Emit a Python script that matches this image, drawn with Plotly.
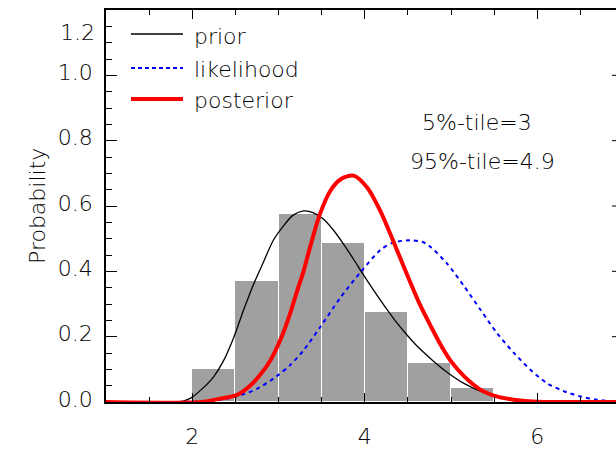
import numpy as np
import plotly.graph_objects as go

# ---------------- data ----------------
bin_left = [2.0, 2.5, 3.0, 3.5, 4.0, 4.5, 5.0]
bin_height = [0.100, 0.370, 0.575, 0.486, 0.277, 0.120, 0.043]
bin_width = 0.5

prior_x = [1.0, 1.85, 1.95, 2.0, 2.13, 2.25, 2.36, 2.48, 2.59, 2.71, 2.83, 2.94, 3.06, 3.17,
           3.29, 3.40, 3.52, 3.64, 3.75, 3.87, 3.97, 4.10, 4.22, 4.33, 4.49, 4.60, 4.72,
           4.80, 4.95, 5.15, 5.34, 5.53, 5.75, 6.0, 7.0]
prior_y = [0.0, 0.0, 0.008, 0.015, 0.044, 0.078, 0.125, 0.197, 0.278, 0.360, 0.431, 0.495,
           0.540, 0.572, 0.585, 0.580, 0.560, 0.525, 0.485, 0.437, 0.395, 0.343, 0.297,
           0.257, 0.205, 0.173, 0.143, 0.124, 0.092, 0.057, 0.033, 0.016, 0.006, 0.001, 0.0]

like_x = [1.0, 2.0, 2.3, 2.52, 2.75, 2.98, 3.14, 3.29, 3.48, 3.72, 3.95, 4.18, 4.33, 4.53,
          4.68, 4.76, 4.95, 5.15, 5.34, 5.53, 5.73, 5.92, 6.11, 6.31, 6.50, 6.69, 6.9, 7.0]
like_y = [0.0, 0.001, 0.005, 0.018, 0.040, 0.079, 0.114, 0.158, 0.228, 0.320, 0.397, 0.465,
          0.488, 0.495, 0.489, 0.475, 0.425, 0.355, 0.283, 0.212, 0.150, 0.099, 0.058,
          0.033, 0.017, 0.007, 0.002, 0.001]

post_x = [1.0, 2.1, 2.32, 2.52, 2.67, 2.79, 2.90, 2.98, 3.06, 3.14, 3.21, 3.29, 3.37, 3.48,
          3.60, 3.72, 3.87, 4.03, 4.18, 4.33, 4.49, 4.64, 4.78, 4.88, 4.99, 5.15, 5.34,
          5.53, 5.73, 6.0, 7.0]
post_y = [0.0, 0.0, 0.010, 0.022, 0.050, 0.084, 0.125, 0.166, 0.215, 0.275, 0.335, 0.400,
          0.478, 0.575, 0.646, 0.682, 0.693, 0.656, 0.585, 0.493, 0.390, 0.298, 0.225,
          0.175, 0.128, 0.079, 0.038, 0.017, 0.007, 0.001, 0.0]

y_tickvals = [0.0, 0.2, 0.4, 0.6, 0.8, 1.0, 1.2]
y_ticktext = ["0.0", "0.2", "0.4", "0.6", "0.8", "1.0", ""]
x_tickvals = [2, 4, 6]
x_ticktext = ["2", "4", "6"]
legend_names = ["prior", "likelihood", "posterior"]
note_lines = ["5%-tile=3", "95%-tile=4.9"]

FONT = "DejaVu Sans"
FS = 22
FW = 200

def fnt():
    return dict(family=FONT, size=FS, color="black", weight=FW)

fig = go.Figure()
fig.add_trace(go.Bar(x=bin_left, y=bin_height, width=bin_width, offset=0,
                     marker=dict(color="#a0a0a0", line=dict(color="white", width=1)),
                     showlegend=False))
fig.add_trace(go.Scatter(x=prior_x, y=prior_y, mode="lines",
                         line=dict(color="black", width=1.3, shape="spline", smoothing=0.8),
                         showlegend=False))
fig.add_trace(go.Scatter(x=like_x, y=like_y, mode="lines",
                         line=dict(color="#0000ff", width=2, dash="4px,4px",
                                   shape="spline", smoothing=0.8),
                         showlegend=False))
fig.add_trace(go.Scatter(x=post_x, y=post_y, mode="lines",
                         line=dict(color="#ff0000", width=4, shape="spline", smoothing=0.8),
                         showlegend=False))

W, H = 616, 453
L, R, T, B = 106, 0, 10, 51
pw = W - L - R
ph = H - T - B
x_per_unit = 86.25

fig.update_layout(
    width=W, height=H,
    margin=dict(l=L, r=R, t=T, b=B, pad=0, autoexpand=False),
    paper_bgcolor="white", plot_bgcolor="white",
    font=fnt(),
    bargap=0,
)
fig.update_xaxes(
    range=[1, 1 + pw / x_per_unit],
    automargin=False,
    showgrid=False, zeroline=False,
    showline=True, linecolor="black", linewidth=1.5, mirror="ticks",
    ticks="inside", ticklen=9, tickwidth=1, tickcolor="black",
    tickvals=x_tickvals, ticktext=x_ticktext,
    minor=dict(tickvals=list(np.arange(1.0, 7.01, 0.5)), ticks="inside", ticklen=5,
               tickcolor="black", tickwidth=1),
    ticklabelstandoff=14,
    tickfont=fnt(),
)
fig.update_yaxes(
    range=[0, 1.2],
    automargin=False,
    showgrid=False, zeroline=False,
    showline=True, linecolor="black", linewidth=1.5, mirror=False,
    ticks="inside", ticklen=11, tickwidth=1, tickcolor="black",
    tickvals=y_tickvals, ticktext=y_ticktext,
    minor=dict(tickvals=list(np.arange(0.0, 1.201, 0.05)), ticks="inside", ticklen=6,
               tickcolor="black", tickwidth=1),
    ticklabelstandoff=7,
    ticklabelshift=-3,
    tickfont=fnt(),
)

def px_to_paper_x(px):
    return (px - L) / pw

def px_to_paper_y(py):
    return (H - B - py) / ph

annotations = []
annotations.append(dict(text="1.2", x=0, xref="paper", xanchor="right", xshift=-9,
                        y=px_to_paper_y(33), yref="paper", yanchor="middle",
                        showarrow=False, font=fnt()))
annotations.append(dict(text="Probability", x=0, xref="paper", xanchor="center", xshift=-69,
                        y=0.5, yref="paper", yanchor="middle", textangle=-90,
                        showarrow=False, font=fnt()))
annotations.append(dict(text=note_lines[0], x=px_to_paper_x(477), xref="paper", xanchor="center",
                        y=px_to_paper_y(122), yref="paper", yanchor="middle",
                        showarrow=False, font=fnt()))
annotations.append(dict(text=note_lines[1], x=px_to_paper_x(482), xref="paper", xanchor="center",
                        y=px_to_paper_y(161), yref="paper", yanchor="middle",
                        showarrow=False, font=fnt()))

leg_rows = [34, 68, 99]
leg_styles = [dict(color="black", width=1.3),
              dict(color="#0000ff", width=2, dash="4px,3px"),
              dict(color="#ff0000", width=4)]
shapes = []
for name, row, sty in zip(legend_names, leg_rows, leg_styles):
    shapes.append(dict(type="line", xref="paper", yref="paper",
                       x0=px_to_paper_x(131), x1=px_to_paper_x(183),
                       y0=px_to_paper_y(row), y1=px_to_paper_y(row), line=sty))
    annotations.append(dict(text=name, x=px_to_paper_x(192), xref="paper", xanchor="left",
                            y=px_to_paper_y(row + 2), yref="paper", yanchor="middle",
                            showarrow=False, font=fnt()))

for v in y_tickvals[1:-1]:
    shapes.append(dict(type="line", xref="paper", yref="y",
                       x0=1 - 4 / pw, x1=1, y0=v, y1=v,
                       line=dict(color="black", width=1)))

fig.update_layout(annotations=annotations, shapes=shapes)
fig.write_html("out.html")
